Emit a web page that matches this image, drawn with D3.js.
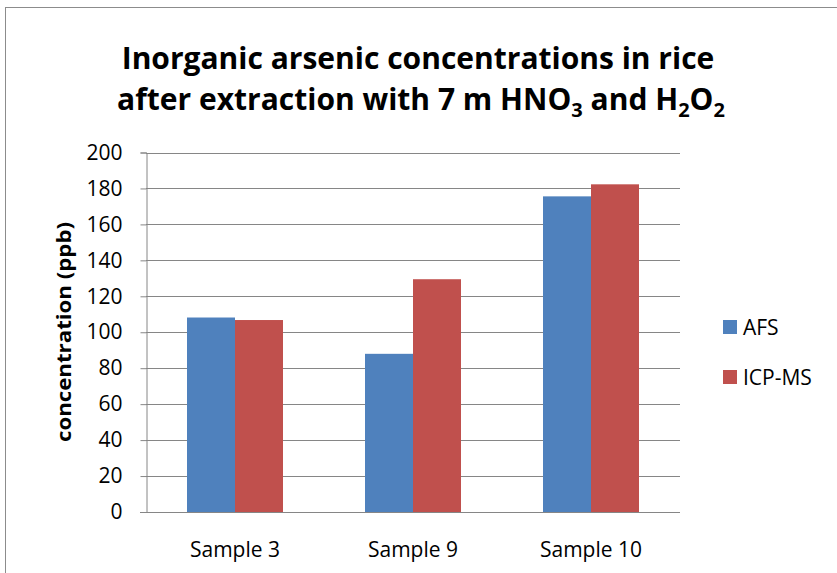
<html>
<head>
<script src="https://d3js.org/d3.v7.min.js"></script>
<style>
  body { margin: 0; background: #fff; }
  text { font-family: "Open Sans", sans-serif; fill: #000; }
</style>
</head>
<body>
<script>
var categories = ['Sample 3', 'Sample 9', 'Sample 10'];
var seriesNames = ['AFS', 'ICP-MS'];
var afs = [108.2, 88, 175.6];
var icpms = [106.8, 129.5, 182.3];
var yTicks = [0, 20, 40, 60, 80, 100, 120, 140, 160, 180, 200];
var colors = ['#4F81BD', '#C0504D'];

var w = 837, h = 573;
var plotLeft = 146, plotRight = 680, plotTop = 152.5, plotBottom = 512;

var svg = d3.select('body').append('svg')
    .attr('width', w)
    .attr('height', h);

// outer chart border
svg.append('rect')
    .attr('x', 5.5).attr('y', 7.5)
    .attr('width', 840).attr('height', 580)
    .attr('fill', 'none')
    .attr('stroke', '#8c8c8c')
    .attr('stroke-width', 1);

var x0 = d3.scaleBand().domain(categories).range([plotLeft, plotRight]);
var x1 = d3.scaleBand().domain(seriesNames).range([41, x0.bandwidth() - 41]);
var y = d3.scaleLinear().domain([0, 200]).range([plotBottom, plotTop]);

// gridlines
svg.selectAll('line.grid')
    .data(yTicks.filter(function (d) { return d > 0; }))
    .enter().append('line')
    .attr('class', 'grid')
    .attr('x1', plotLeft).attr('x2', plotRight)
    .attr('y1', function (d) { return Math.round(y(d)) + 0.5; })
    .attr('y2', function (d) { return Math.round(y(d)) + 0.5; })
    .attr('stroke', '#868686')
    .attr('stroke-width', 1);

// bars
var rows = categories.map(function (c, i) { return {cat: c, vals: [afs[i], icpms[i]]}; });
var groups = svg.selectAll('g.group')
    .data(rows)
    .enter().append('g')
    .attr('class', 'group')
    .attr('transform', function (d) { return 'translate(' + x0(d.cat) + ',0)'; });
groups.selectAll('rect')
    .data(function (d) { return d.vals.map(function (v, j) { return {name: seriesNames[j], v: v, j: j}; }); })
    .enter().append('rect')
    .attr('x', function (d) { return x1(d.name); })
    .attr('y', function (d) { return y(d.v); })
    .attr('width', x1.bandwidth())
    .attr('height', function (d) { return plotBottom - y(d.v); })
    .attr('fill', function (d) { return colors[d.j]; });

// y axis
var yAxis = d3.axisLeft(y).tickValues(yTicks).tickSize(6).tickPadding(18);
var ya = svg.append('g')
    .attr('transform', 'translate(' + (plotLeft + 0.5) + ',0)')
    .call(yAxis);
ya.select('.domain').attr('stroke', '#868686');
ya.selectAll('.tick line').attr('stroke', '#868686');
ya.selectAll('.tick text')
    .style('font-size', '21px')
    .style('font-family', '"Open Sans", sans-serif')
    .attr('fill', '#000');

// x axis line
svg.append('line')
    .attr('x1', plotLeft - 6).attr('x2', plotRight)
    .attr('y1', plotBottom + 0.5).attr('y2', plotBottom + 0.5)
    .attr('stroke', '#868686');

// category labels
svg.selectAll('text.cat')
    .data(categories)
    .enter().append('text')
    .attr('class', 'cat')
    .attr('x', function (d) { return x0(d) + x0.bandwidth() / 2; })
    .attr('y', 557)
    .attr('text-anchor', 'middle')
    .style('font-size', '21px')
    .text(function (d) { return d; });

// y axis title
svg.append('text')
    .attr('transform', 'translate(71,332) rotate(-90)')
    .attr('text-anchor', 'middle')
    .style('font-size', '19px')
    .style('font-weight', 'bold')
    .attr('textLength', 220)
    .attr('lengthAdjust', 'spacingAndGlyphs')
    .text('concentration (ppb)');

// chart title
svg.append('text')
    .attr('x', 418).attr('y', 69)
    .attr('text-anchor', 'middle')
    .style('font-size', '30px')
    .style('font-weight', 'bold')
    .text('Inorganic arsenic concentrations in rice');
var t2 = svg.append('text')
    .attr('x', 421).attr('y', 110)
    .attr('text-anchor', 'middle')
    .style('font-size', '30px')
    .style('font-weight', 'bold');
t2.append('tspan').text('after extraction with 7 m HNO');
t2.append('tspan').attr('dy', 7).style('font-size', '20px').text('3');
t2.append('tspan').attr('dy', -7).text(' and H');
t2.append('tspan').attr('dy', 7).style('font-size', '20px').text('2');
t2.append('tspan').attr('dy', -7).text('O');
t2.append('tspan').attr('dy', 7).style('font-size', '20px').text('2');

// legend
var legend = svg.selectAll('g.legend')
    .data(seriesNames)
    .enter().append('g')
    .attr('class', 'legend')
    .attr('transform', function (d, i) { return 'translate(723,' + (320 + i * 50) + ')'; });
legend.append('rect')
    .attr('width', 14).attr('height', 14)
    .attr('fill', function (d, i) { return colors[i]; });
legend.append('text')
    .attr('x', 20).attr('y', 15)
    .style('font-size', '21px')
    .text(function (d) { return d; });
</script>
</body>
</html>
